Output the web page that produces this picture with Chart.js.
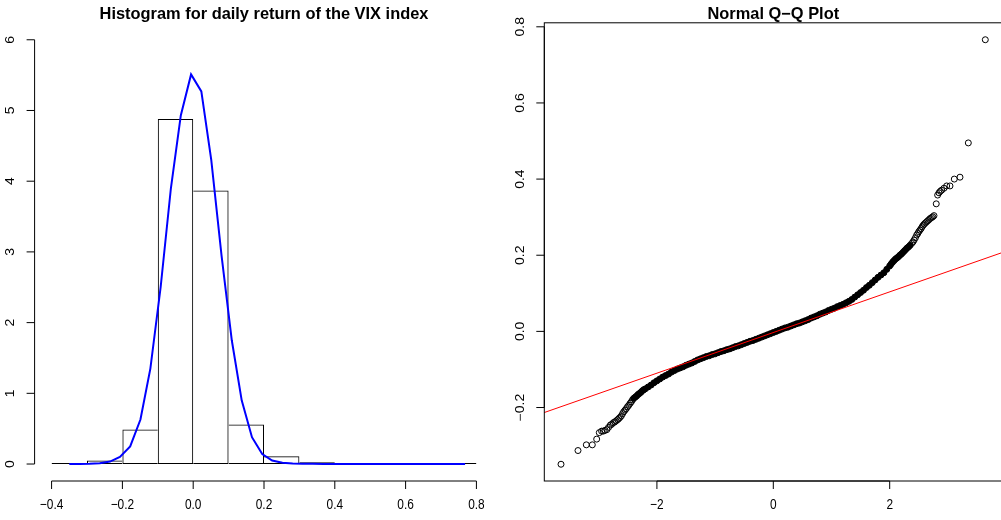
<!DOCTYPE html>
<html>
<head>
<meta charset="utf-8">
<script src="https://cdn.jsdelivr.net/npm/chart.js@4.4.1/dist/chart.umd.min.js"></script>
<style>
  html, body { margin: 0; padding: 0; background: #fff; width: 1001px; height: 520px; overflow: hidden; }
  #left { position: absolute; left: 0; top: 0; }
  #right { position: absolute; left: 500px; top: 0; }
</style>
</head>
<body>
<canvas id="left" width="500" height="520"></canvas>
<canvas id="right" width="510" height="520"></canvas>
<script>
// ---------- Histogram data ----------
const histBreaks = [-0.4, -0.3, -0.2, -0.1, 0.0, 0.1, 0.2, 0.3, 0.4, 0.5, 0.6, 0.7, 0.8];
const histDensity = [0.003, 0.05, 0.49, 4.88, 3.87, 0.56, 0.11, 0.025, 0.005, 0, 0, 0.002];

// density curve (blue)
const densityX = [-0.350, -0.321, -0.293, -0.264, -0.235, -0.207, -0.178, -0.149, -0.121, -0.092,
                  -0.063, -0.035, -0.006, 0.023, 0.051, 0.080, 0.109, 0.137, 0.166, 0.195,
                  0.223, 0.252, 0.281, 0.309, 0.338, 0.367, 0.395, 0.424, 0.453, 0.481,
                  0.510, 0.539, 0.567, 0.596, 0.625, 0.653, 0.682, 0.711, 0.739, 0.768];
const densityY = [0.000, 0.001, 0.003, 0.010, 0.035, 0.10, 0.25, 0.63, 1.35, 2.50,
                  3.90, 4.93, 5.51, 5.27, 4.30, 2.95, 1.75, 0.90, 0.38, 0.14,
                  0.05, 0.018, 0.008, 0.004, 0.003, 0.002, 0.002, 0.001, 0.001, 0.001,
                  0.001, 0.001, 0.001, 0.001, 0.001, 0.001, 0.001, 0.001, 0.001, 0.000];

const histXTicks = [-0.4, -0.2, 0.0, 0.2, 0.4, 0.6, 0.8];
const histXLabels = ['\u22120.4', '\u22120.2', '0.0', '0.2', '0.4', '0.6', '0.8'];
const histYTicks = [0, 1, 2, 3, 4, 5, 6];
const histYLabels = ['0', '1', '2', '3', '4', '5', '6'];

// ---------- Q-Q data ----------
const qqTheoretical = [
  -3.648, -3.356, -3.213, -3.110, -3.035, -2.990, -2.950, -2.921, -2.890, -2.860,
  -2.830, -2.800, -2.777, -2.750, -2.725, -2.700, -2.675, -2.655, -2.634, -2.612,
  -2.590, -2.570, -2.548, -2.527, -2.505, -2.483, -2.460, -2.440, -2.420,
  -2.400, -2.375, -2.350, -2.325, -2.300, -2.275, -2.250, -2.225, -2.200, -2.150, -2.100, -2.050,
  -2.000, -1.950, -1.900, -1.850, -1.800, -1.750, -1.700, -1.650, -1.600, -1.550,
  -1.500, -1.450, -1.400, -1.350, -1.300, -1.250, -1.200, -1.150, -1.100, -1.050,
  -1.000, -0.950, -0.900, -0.850, -0.800, -0.750, -0.700, -0.650, -0.600, -0.550,
  -0.500, -0.450, -0.400, -0.350, -0.300, -0.250, -0.200, -0.150, -0.100, -0.050,
  0.000, 0.050, 0.100, 0.150, 0.200, 0.250, 0.300, 0.350, 0.400, 0.450,
  0.500, 0.550, 0.600, 0.650, 0.700, 0.750, 0.800, 0.850, 0.900, 0.950,
  1.000, 1.050, 1.100, 1.150, 1.200, 1.250, 1.300, 1.350, 1.400, 1.450,
  1.500, 1.550, 1.600, 1.650, 1.700, 1.750, 1.800, 1.850, 1.900, 1.950,
  2.000, 2.025, 2.050, 2.075, 2.100, 2.125, 2.150, 2.175, 2.200, 2.225,
  2.250, 2.275, 2.300, 2.325, 2.350,
  2.378, 2.400, 2.420, 2.442, 2.464, 2.483, 2.500, 2.520, 2.540, 2.558,
  2.577, 2.595, 2.615, 2.636, 2.658, 2.680, 2.700, 2.721, 2.741, 2.761,
  2.800, 2.824, 2.847, 2.870, 2.893, 2.933, 2.979, 3.036, 3.110, 3.208,
  3.351, 3.643
];
const qqSample = [
  -0.349, -0.313, -0.298, -0.298, -0.283, -0.266, -0.262, -0.262, -0.260, -0.258,
  -0.252, -0.246, -0.244, -0.240, -0.238, -0.235, -0.232, -0.229, -0.226, -0.222,
  -0.216, -0.211, -0.207, -0.203, -0.198, -0.194, -0.189, -0.185, -0.180,
  -0.176, -0.173, -0.170, -0.166, -0.163, -0.160, -0.156, -0.153, -0.151, -0.146, -0.141, -0.135,
  -0.130, -0.125, -0.120, -0.116, -0.112, -0.107, -0.103, -0.099, -0.096, -0.093,
  -0.089, -0.086, -0.083, -0.079, -0.075, -0.072, -0.069, -0.066, -0.064, -0.061,
  -0.059, -0.056, -0.053, -0.051, -0.048, -0.046, -0.043, -0.040, -0.038, -0.035,
  -0.032, -0.029, -0.026, -0.024, -0.021, -0.018, -0.015, -0.012, -0.009, -0.006,
  -0.003, 0.000, 0.003, 0.006, 0.009, 0.011, 0.014, 0.017, 0.020, 0.022,
  0.025, 0.028, 0.031, 0.035, 0.038, 0.041, 0.045, 0.048, 0.051, 0.055,
  0.058, 0.061, 0.065, 0.068, 0.071, 0.075, 0.079, 0.084, 0.090, 0.096,
  0.102, 0.108, 0.115, 0.121, 0.128, 0.135, 0.142, 0.148, 0.154, 0.163,
  0.172, 0.177, 0.182, 0.186, 0.190, 0.193, 0.196, 0.200, 0.203, 0.207,
  0.211, 0.215, 0.219, 0.222, 0.226,
  0.231, 0.235, 0.240, 0.246, 0.253, 0.257, 0.262, 0.266, 0.270, 0.275,
  0.279, 0.282, 0.285, 0.288, 0.291, 0.294, 0.297, 0.299, 0.301, 0.304,
  0.335, 0.358, 0.364, 0.368, 0.371, 0.376, 0.382, 0.382, 0.400, 0.405,
  0.495, 0.766
];
const qqDenseRange = [-2.40, 2.35];   // where the points overlap into a solid band
const qqLineIntercept = -0.003;
const qqLineSlope = 0.0534;
const qqLineX = [-4, 4];

const qqXTicks = [-2, 0, 2];
const qqXLabels = ['\u22122', '0', '2'];
const qqYTicks = [-0.2, 0.0, 0.2, 0.4, 0.6, 0.8];
const qqYLabels = ['\u22120.2', '0.0', '0.2', '0.4', '0.6', '0.8'];

// ---------- common ----------
const FONT = '"Liberation Sans", Arial, Helvetica, sans-serif';
Chart.defaults.font.family = FONT;
Chart.defaults.color = '#000';
const TICK_FONT_SIZE = 14;
const TICK_SQUEEZE = 0.85;

const rAxes = {
  id: 'rAxes',
  afterDraw(chart, args, opts) {
    const ctx = chart.ctx;
    const xs = chart.scales.x, ys = chart.scales.y;
    const ca = chart.chartArea;
    ctx.save();
    ctx.strokeStyle = '#000';
    ctx.fillStyle = '#000';
    ctx.lineWidth = 1;
    ctx.font = TICK_FONT_SIZE + 'px ' + FONT;
    if (opts.box) {
      ctx.strokeRect(ca.left, ca.top, ca.right - ca.left, ca.bottom - ca.top);
    }
    // x axis
    const xb = ca.bottom;
    const xp = opts.xTicks.map(v => xs.getPixelForValue(v));
    ctx.beginPath();
    ctx.moveTo(xp[0], xb); ctx.lineTo(xp[xp.length - 1], xb);
    xp.forEach(p => { ctx.moveTo(p, xb); ctx.lineTo(p, xb + 8); });
    ctx.stroke();
    ctx.textAlign = 'center';
    ctx.textBaseline = 'middle';
    xp.forEach((p, i) => {
      ctx.save();
      ctx.translate(p, xb + 24.5);
      ctx.scale(TICK_SQUEEZE, 1);
      ctx.fillText(opts.xLabels[i], 0, 0);
      ctx.restore();
    });
    // y axis
    const yl = ca.left;
    const yp = opts.yTicks.map(v => ys.getPixelForValue(v));
    ctx.beginPath();
    ctx.moveTo(yl, yp[0]); ctx.lineTo(yl, yp[yp.length - 1]);
    yp.forEach(p => { ctx.moveTo(yl, p); ctx.lineTo(yl - 8, p); });
    ctx.stroke();
    yp.forEach((p, i) => {
      ctx.save();
      ctx.translate(yl - 23.8, p);
      ctx.scale(TICK_SQUEEZE, 1);
      ctx.rotate(-Math.PI / 2);
      ctx.fillText(opts.yLabels[i], 0, 0);
      ctx.restore();
    });
    ctx.restore();
  }
};

const titleOpts = (text) => ({
  display: true,
  text: text,
  color: '#000',
  font: { family: FONT, size: 16.4, weight: 'bold', lineHeight: 1 },
  padding: { top: 6.3, bottom: 0.1 }
});

// ---------- left: histogram ----------
const histCenters = histDensity.map((d, i) => (histBreaks[i] + histBreaks[i + 1]) / 2);

new Chart(document.getElementById('left'), {
  type: 'bar',
  data: {
    datasets: [
      {
        type: 'line',
        data: densityX.map((x, i) => ({ x: x, y: densityY[i] })),
        borderColor: '#0000ff',
        borderWidth: 2,
        pointRadius: 0,
        tension: 0,
        fill: false
      },
      {
        type: 'bar',
        data: histCenters.map((x, i) => ({ x: x, y: histDensity[i] })),
        backgroundColor: 'rgba(0,0,0,0)',
        borderColor: '#000',
        borderSkipped: false,
        borderWidth: (c) => {
          const i = c.dataIndex, h = histDensity;
          return {
            top: 1, bottom: 1,
            left: (i === 0 || h[i] >= h[i - 1]) ? 1 : 0,
            right: (i === h.length - 1 || h[i] > h[i + 1]) ? 1 : 0
          };
        },
        barPercentage: 1,
        categoryPercentage: 1,
        minBarLength: 1,
        grouped: false,
        inflateAmount: 0
      }
    ]
  },
  options: {
    responsive: false,
    animation: false,
    layout: { padding: { left: 34.6, right: 6.6, top: 0, bottom: 39 } },
    plugins: {
      legend: { display: false },
      tooltip: { enabled: false },
      title: titleOpts('Histogram for daily return of the VIX index'),
      rAxes: { xTicks: histXTicks, xLabels: histXLabels, yTicks: histYTicks, yLabels: histYLabels, box: false }
    },
    scales: {
      x: { type: 'linear', min: -0.448, max: 0.848, offset: false, display: false },
      y: { type: 'linear', min: -0.24, max: 6.24, display: false }
    }
  },
  plugins: [rAxes]
});

// ---------- right: normal Q-Q plot ----------
new Chart(document.getElementById('right'), {
  type: 'scatter',
  data: {
    datasets: [
      {
        type: 'line',
        data: qqLineX.map(x => ({ x: x, y: qqLineIntercept + qqLineSlope * x })),
        borderColor: '#ff0000',
        borderWidth: 1,
        pointRadius: 0,
        tension: 0,
        fill: false
      },
      {
        data: qqTheoretical.map((x, i) => ({ x: x, y: qqSample[i] })),
        pointStyle: 'circle',
        pointRadius: 3,
        borderWidth: 1,
        borderColor: '#000',
        backgroundColor: (c) => {
          const x = qqTheoretical[c.dataIndex];
          return (x >= qqDenseRange[0] && x <= qqDenseRange[1]) ? '#000' : 'rgba(0,0,0,0)';
        }
      }
    ]
  },
  options: {
    responsive: false,
    animation: false,
    layout: { padding: { left: 44.3, right: 7.7, top: 0, bottom: 39 } },
    plugins: {
      legend: { display: false },
      tooltip: { enabled: false },
      title: titleOpts('Normal Q\u2212Q Plot'),
      rAxes: { xTicks: qqXTicks, xLabels: qqXLabels, yTicks: qqYTicks, yLabels: qqYLabels, box: true }
    },
    scales: {
      x: { type: 'linear', min: -3.935, max: 3.935, display: false },
      y: { type: 'linear', min: -0.393, max: 0.8105, display: false }
    }
  },
  plugins: [rAxes]
});
</script>
</body>
</html>
